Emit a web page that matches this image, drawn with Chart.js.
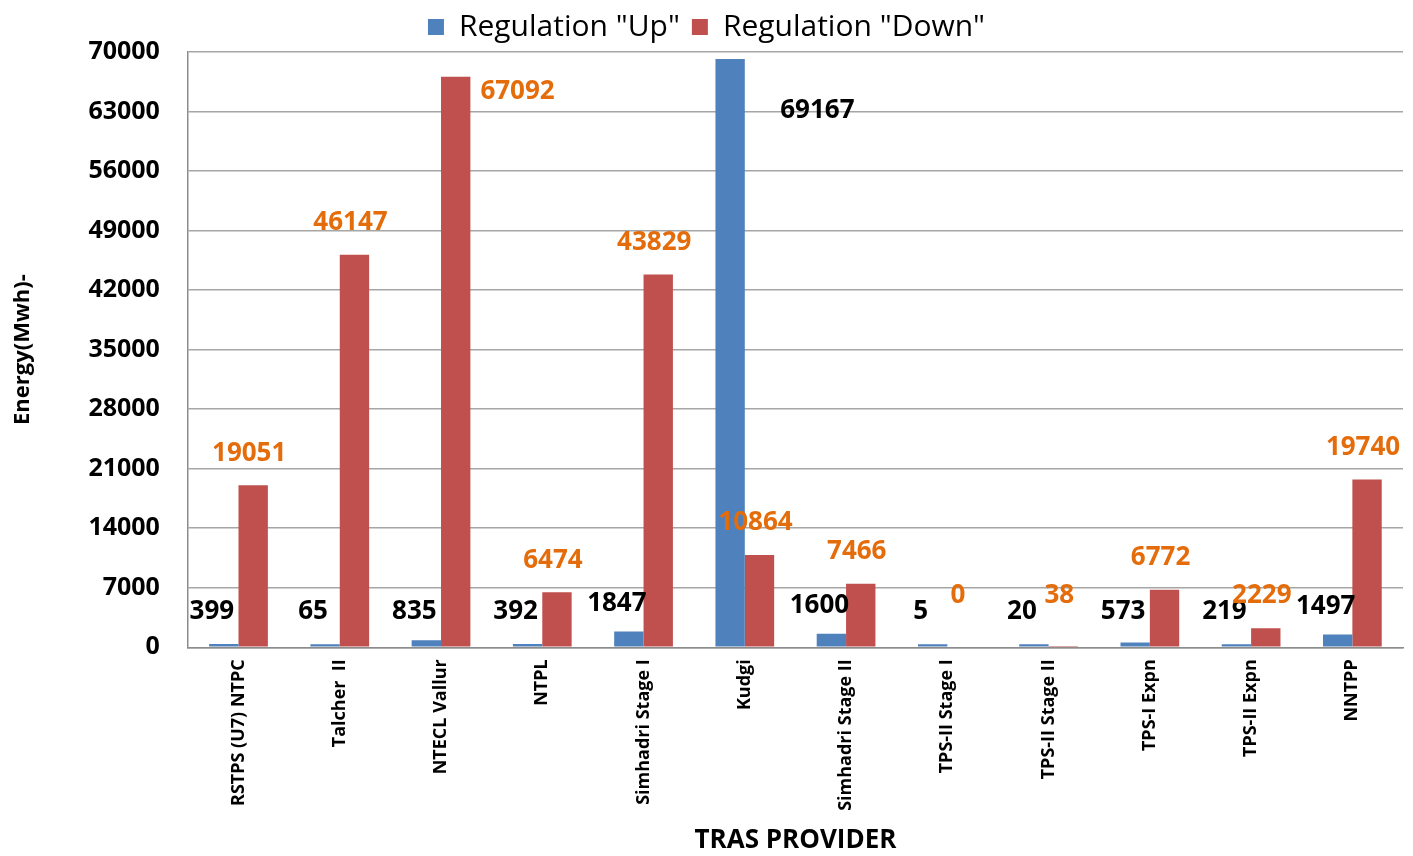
<!DOCTYPE html>
<html>
<head>
<meta charset="utf-8">
<script src="https://cdn.jsdelivr.net/npm/chart.js@4"></script>
<style>
  html, body { margin: 0; padding: 0; background: #fff; }
  #wrap { width: 1413px; height: 856px; }
</style>
</head>
<body>
<div id="wrap"><canvas id="myChart"></canvas></div>
<script>
const providers = ['RSTPS (U7) NTPC', 'Talcher  II', 'NTECL Vallur', 'NTPL', 'Simhadri Stage I', 'Kudgi',
  'Simhadri Stage II', 'TPS-II Stage I', 'TPS-II Stage II', 'TPS-I Expn', 'TPS-II Expn', 'NNTPP'];
const regUp = [399, 65, 835, 392, 1847, 69167, 1600, 5, 20, 573, 219, 1497];
const regDown = [19051, 46147, 67092, 6474, 43829, 10864, 7466, 0, 38, 6772, 2229, 19740];
const yTicks = [0, 7000, 14000, 21000, 28000, 35000, 42000, 49000, 56000, 63000, 70000];

const FONT = '"Open Sans", sans-serif';

// draws the value labels above / beside each bar
const valueLabels = {
  id: 'valueLabels',
  afterDatasetsDraw(chart) {
    const ctx = chart.ctx;
    const top = chart.chartArea.top;
    const base = chart.scales.y.getPixelForValue(0);
    ctx.save();
    ctx.font = 'bold 26px ' + FONT;
    ctx.textBaseline = 'middle';
    chart.data.datasets.forEach((ds, di) => {
      const meta = chart.getDatasetMeta(di);
      meta.data.forEach((bar, i) => {
        const txt = String(ds.data[i]);
        ctx.fillStyle = di === 0 ? '#000000' : '#E46C0A';
        if (bar.y - top < 60) {
          // tall bar: label sits to the right
          ctx.textAlign = 'left';
          const x = di === 0 ? bar.x + bar.width * 1.5 + 6 : bar.x + bar.width / 2 + 10;
          const y = di === 0 ? bar.y + 52 : bar.y + 15;
          ctx.fillText(txt, x, y);
        } else if (di === 0) {
          ctx.textAlign = 'center';
          ctx.fillText(txt, bar.x - 12, Math.min(bar.y - 28, base - 36));
        } else {
          ctx.textAlign = 'center';
          ctx.fillText(txt, bar.x - 4, Math.min(bar.y - 32, base - 52));
        }
      });
    });
    ctx.restore();
  }
};

const ctx = document.getElementById('myChart').getContext('2d');
const myChart = new Chart(ctx, {
  type: 'bar',
  data: {
    labels: providers,
    datasets: [{
      label: 'Regulation "Up"',
      data: regUp,
      backgroundColor: '#4F81BD',
      categoryPercentage: 0.58,
      barPercentage: 1.0,
      minBarLength: 3
    }, {
      label: 'Regulation "Down"',
      data: regDown,
      backgroundColor: '#C0504D',
      categoryPercentage: 0.58,
      barPercentage: 1.0
    }]
  },
  options: {
    responsive: true,
    maintainAspectRatio: false,
    animation: false,
    layout: { padding: { left: 10, right: 10, top: 0, bottom: 0 } },
    plugins: {
      legend: {
        position: 'top',
        labels: {
          font: { family: FONT, size: 30 },
          color: '#000',
          boxWidth: 16,
          boxHeight: 16,
          padding: 12
        }
      },
      tooltip: { enabled: false }
    },
    scales: {
      x: {
        grid: { display: false, drawTicks: false },
        border: { color: '#8C8C8C', width: 1.5 },
        ticks: {
          minRotation: 90,
          maxRotation: 90,
          padding: 12,
          color: '#000',
          font: { family: FONT, size: 18, weight: 'bold' }
        },
        title: {
          display: true,
          text: 'TRAS PROVIDER',
          color: '#000',
          font: { family: FONT, size: 26, weight: 'bold' },
          padding: { top: 2, bottom: 0 }
        }
      },
      y: {
        min: 0,
        max: 70000,
        afterBuildTicks: (axis) => { axis.ticks = yTicks.map(v => ({ value: v })); },
        grid: { color: '#A6A6A6', lineWidth: 1.5, drawTicks: false },
        border: { color: '#8C8C8C', width: 1.5 },
        ticks: {
          padding: 28,
          color: '#000',
          font: { family: FONT, size: 25, weight: 'bold' },
          callback: (v) => String(v)
        },
        title: {
          display: true,
          text: 'Energy(Mwh)-',
          color: '#000',
          font: { family: FONT, size: 22, weight: 'bold' },
          padding: { top: 0, bottom: 24 }
        }
      }
    }
  },
  plugins: [valueLabels]
});
</script>
</body>
</html>
